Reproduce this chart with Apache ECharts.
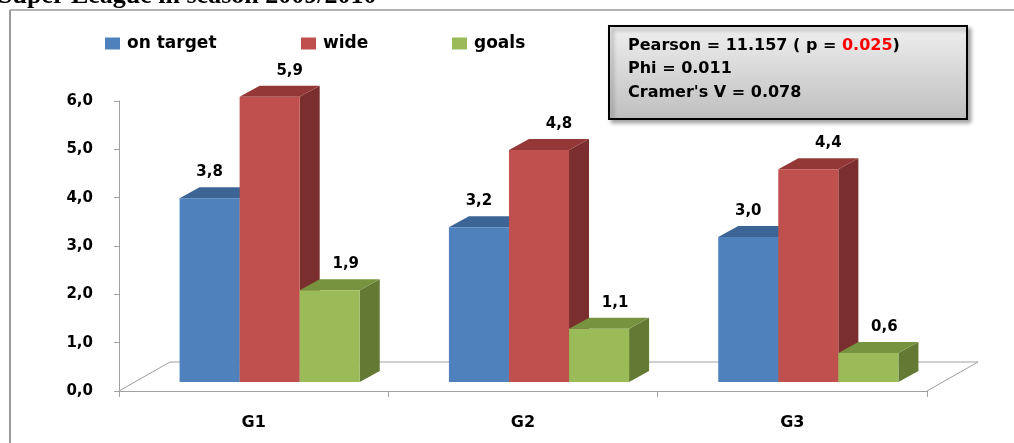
<!DOCTYPE html>
<html>
<head>
<meta charset="utf-8">
<script src="https://cdn.jsdelivr.net/npm/echarts@6/dist/echarts.min.js"></script>
<style>
  html, body { margin: 0; padding: 0; background: #ffffff; }
  #chart { width: 1014px; height: 443px; }
</style>
</head>
<body>
<div id="chart"></div>
<script>
// ---- data ----
const categories = ['G1', 'G2', 'G3'];
const seriesNames = ['on target', 'wide', 'goals'];
const onTarget = [3.8, 3.2, 3.0];
const wide = [5.9, 4.8, 4.4];
const goals = [1.9, 1.1, 0.6];
const yMin = 0, yMax = 6, yInterval = 1;
const titleText = 'Super League in season 2009/2010';
const statsLines = ['Pearson = 11.157 ( p = ', '0.025', ')', 'Phi = 0.011', "Cramer's V = 0.078"];

// ---- style ----
const FONT = '"DejaVu Sans", Verdana, sans-serif';
const BAR_RATIO = 0.223;   // bar width relative to category band
const SHIFT_X = 16, SHIFT_Y = 9;   // bars placed inside the floor depth
const DX = 20, DY = 11;            // bar depth
const FLOOR_DX = 51, FLOOR_DY = 29; // floor depth
const palettes = [
  { front: '#4f81bd', top: '#3c6595', side: '#385d8a', labelDx: 0 },
  { front: '#c0504d', top: '#933836', side: '#7a2e2d', labelDx: 20 },
  { front: '#9bbb59', top: '#78933f', side: '#647a34', labelDx: 16 }
];
const seriesData = [onTarget, wide, goals];

function fmt(v) { return v.toFixed(1).replace('.', ','); }

function barRenderer(k) {
  const pal = palettes[k];
  return function (params, api) {
    const cat = api.value(0), v = api.value(1);
    const base = api.coord([cat, 0]);
    const top = api.coord([cat, v]);
    const band = api.size([1, 0])[0];
    const bw = band * BAR_RATIO;
    const x0 = base[0] + SHIFT_X + (k - 1.5) * bw;
    const yb = base[1] - SHIFT_Y;
    const yt = top[1] - SHIFT_Y;
    return {
      type: 'group',
      children: [
        { type: 'polygon', shape: { points: [[x0 + bw, yt], [x0 + bw + DX, yt - DY], [x0 + bw + DX, yb - DY], [x0 + bw, yb]] },
          style: { fill: pal.side } },
        { type: 'polygon', shape: { points: [[x0, yt], [x0 + bw, yt], [x0 + bw + DX, yt - DY], [x0 + DX, yt - DY]] },
          style: { fill: pal.top } },
        { type: 'rect', shape: { x: x0, y: yt, width: bw, height: yb - yt },
          style: { fill: pal.front } },
        { type: 'text', style: { text: fmt(v), x: x0 + bw / 2 + pal.labelDx, y: yt - 26,
            align: 'center', verticalAlign: 'middle', font: 'bold 15px ' + FONT, fill: '#000' } }
      ]
    };
  };
}

function floorRenderer(params, api) {
  const cs = params.coordSys;
  const x = cs.x, y = cs.y + cs.height, w = cs.width;
  const st = { stroke: '#a0a0a0', lineWidth: 1, fill: null };
  return {
    type: 'group',
    children: [
      { type: 'polyline', shape: { points: [[x, y], [x + FLOOR_DX, y - FLOOR_DY], [x + w + FLOOR_DX, y - FLOOR_DY], [x + w, y]] }, style: st }
    ]
  };
}

const chart = echarts.init(document.getElementById('chart'), null, { renderer: 'canvas' });

const series = [{
  type: 'custom', name: 'floor', renderItem: floorRenderer, data: [[0, 0]], clip: false, silent: true, z: 1
}];
seriesNames.forEach((name, k) => {
  series.push({
    type: 'custom', name: name, renderItem: barRenderer(k), clip: false, z: 2 + k,
    itemStyle: { color: palettes[k].front },
    data: seriesData[k].map((v, i) => [i, v])
  });
});

const legendLefts = [105, 301, 452];

chart.setOption({
  animation: false,
  backgroundColor: '#ffffff',
  grid: { left: 119, right: 87, top: 101, bottom: 52 },
  legend: seriesNames.map((name, k) => ({
    data: [{ name: name, icon: 'rect', itemStyle: { color: palettes[k].front } }],
    left: legendLefts[k], top: 35, itemWidth: 15, itemHeight: 12, padding: 0,
    selectedMode: false,
    textStyle: { fontFamily: FONT, fontWeight: 'bold', fontSize: 17, color: '#000', padding: [0, 0, 0, 2] }
  })),
  xAxis: {
    type: 'category', data: categories, boundaryGap: true,
    axisLine: { show: true, lineStyle: { color: '#a0a0a0', width: 1 } },
    axisTick: { show: true, length: 6, lineStyle: { color: '#a0a0a0' } },
    axisLabel: { margin: 24, fontFamily: FONT, fontWeight: 'bold', fontSize: 16, color: '#000' },
    splitLine: { show: false }
  },
  yAxis: {
    type: 'value', min: yMin, max: yMax, interval: yInterval,
    axisLine: { show: true, lineStyle: { color: '#a0a0a0', width: 1 } },
    axisTick: { show: true, length: 5, lineStyle: { color: '#a0a0a0' } },
    axisLabel: { margin: 26, fontFamily: FONT, fontWeight: 'bold', fontSize: 15, color: '#000',
      formatter: v => fmt(v) },
    splitLine: { show: false }
  },
  graphic: [
    { type: 'text', left: -2, top: -17, z: 10,
      style: { text: titleText, font: 'bold 26px "Liberation Serif", "Times New Roman", serif', fill: '#000' } },
    { type: 'line', shape: { x1: 10, y1: 10, x2: 1014, y2: 10 }, style: { stroke: '#9a9a9a', lineWidth: 1.5 }, z: 10 },
    { type: 'line', shape: { x1: 10, y1: 10, x2: 10, y2: 443 }, style: { stroke: '#9a9a9a', lineWidth: 2 }, z: 10 },
    { type: 'group', left: 608, top: 25, z: 20, children: [
      { type: 'rect', shape: { x: 0, y: 0, width: 358, height: 93 },
        style: {
          fill: new echarts.graphic.LinearGradient(0, 0, 0, 1, [
            { offset: 0, color: '#f0f0f0' }, { offset: 1, color: '#bebebe' }]),
          stroke: '#000', lineWidth: 2,
          shadowBlur: 4, shadowOffsetX: 3, shadowOffsetY: 3, shadowColor: 'rgba(0,0,0,0.35)'
        } },
      { type: 'text', x: 19, y: 20,
        style: { text: '{b|' + statsLines[0] + '}{r|' + statsLines[1] + '}{b|' + statsLines[2] + '}',
          verticalAlign: 'middle',
          rich: { b: { font: 'bold 16px ' + FONT, fill: '#000', color: '#000' },
                  r: { font: 'bold 16px ' + FONT, fill: '#ff0000', color: '#ff0000' } } } },
      { type: 'text', x: 19, y: 43,
        style: { text: statsLines[3], font: 'bold 16px ' + FONT, fill: '#000', verticalAlign: 'middle' } },
      { type: 'text', x: 19, y: 67,
        style: { text: statsLines[4], font: 'bold 16px ' + FONT, fill: '#000', verticalAlign: 'middle' } }
    ] }
  ],
  series: series
});
</script>
</body>
</html>
